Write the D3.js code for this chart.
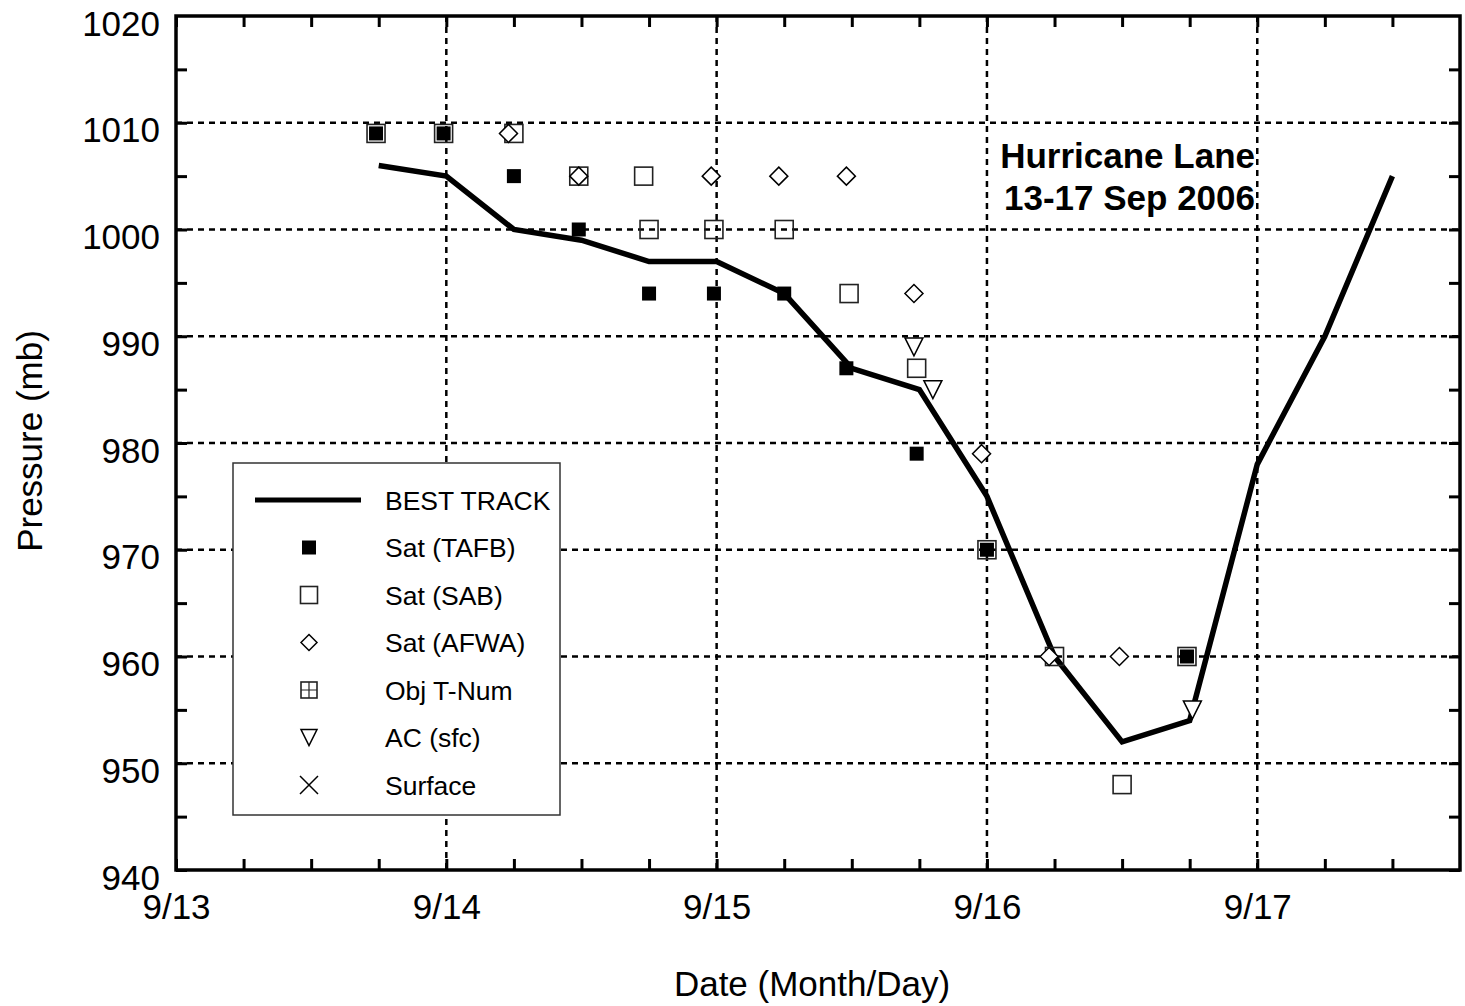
<!DOCTYPE html>
<html><head><meta charset="utf-8">
<script src="https://cdn.jsdelivr.net/npm/d3@7"></script>
<style>body{margin:0;background:#fff;} svg{display:block;font-family:"Liberation Sans",Arial,sans-serif;}</style>
</head><body>
<svg id="c" width="1465" height="1006"></svg>
<script>
// Data (x in fractional days of September 2006)
const xTickValues = [13, 14, 15, 16, 17];
const xTickLabels = ["9/13", "9/14", "9/15", "9/16", "9/17"];
const yTickValues = [940, 950, 960, 970, 980, 990, 1000, 1010, 1020];

const bestX = [13.75, 14.0, 14.25, 14.5, 14.75, 15.0, 15.25, 15.5, 15.75, 16.0, 16.25, 16.5, 16.75, 17.0, 17.25, 17.5];
const bestP = [1006, 1005, 1000, 999, 997, 997, 994, 987, 985, 975, 960, 952, 954, 978, 990, 1005];

const tafbX = [13.74, 13.99, 14.25, 14.49, 14.75, 14.99, 15.25, 15.48, 15.74, 16.0, 16.74];
const tafbP = [1009, 1009, 1005, 1000, 994, 994, 994, 987, 979, 970, 960];

const sabX = [13.74, 13.99, 14.25, 14.49, 14.73, 14.75, 14.99, 15.25, 15.49, 15.74, 16.0, 16.25, 16.5, 16.74];
const sabP = [1009, 1009, 1009, 1005, 1005, 1000, 1000, 1000, 994, 987, 970, 960, 948, 960];

const afwaX = [14.23, 14.49, 14.98, 15.23, 15.48, 15.73, 15.98, 16.23, 16.49];
const afwaP = [1009, 1005, 1005, 1005, 1005, 994, 979, 960, 960];

const acX = [15.73, 15.8, 16.76];
const acP = [989, 985, 955];

const legendLabels = ["BEST TRACK", "Sat (TAFB)", "Sat (SAB)", "Sat (AFWA)", "Obj T-Num", "AC (sfc)", "Surface"];

const svg = d3.select("#c");
const L = 176, R = 1460, T = 16, B = 870;
const x = d3.scaleLinear().domain([13, 17.75]).range([L, R]);
const y = d3.scaleLinear().domain([940, 1020]).range([B, T]);
const FS = 35;

// grid
const g = svg.append("g");
xTickValues.slice(1).forEach(v => g.append("line").attr("x1", x(v)).attr("x2", x(v)).attr("y1", T).attr("y2", B)
  .attr("stroke", "#000").attr("stroke-width", 2.5).attr("stroke-dasharray", "6,5"));
yTickValues.slice(1, -1).forEach(v => g.append("line").attr("x1", L).attr("x2", R).attr("y1", y(v)).attr("y2", y(v))
  .attr("stroke", "#000").attr("stroke-width", 2.5).attr("stroke-dasharray", "6,5"));

// minor ticks via axes
const xMinor = d3.range(13, 17.75, 0.25);
const yMinor = d3.range(940, 1020, 5);
function styleTicks(s) { s.select(".domain").remove(); s.selectAll("line").attr("stroke-width", 3); }
svg.append("g").attr("transform", `translate(0,${B})`)
  .call(d3.axisBottom(x).tickValues(xMinor).tickSize(-11).tickFormat("")).call(styleTicks);
svg.append("g").attr("transform", `translate(0,${T})`)
  .call(d3.axisTop(x).tickValues(xMinor).tickSize(-11).tickFormat("")).call(styleTicks);
svg.append("g").attr("transform", `translate(${L},0)`)
  .call(d3.axisLeft(y).tickValues(yMinor).tickSize(-11).tickFormat("")).call(styleTicks);
svg.append("g").attr("transform", `translate(${R},0)`)
  .call(d3.axisRight(y).tickValues(yMinor).tickSize(-11).tickFormat("")).call(styleTicks);

// tick labels
svg.append("g").attr("transform", `translate(0,${B})`)
  .call(d3.axisBottom(x).tickValues(xTickValues).tickSize(0).tickPadding(0).tickFormat((d, i) => xTickLabels[i]))
  .call(s => { s.select(".domain").remove(); s.selectAll("text").attr("font-size", FS).attr("fill", "#000").attr("y", 49).attr("dy", null).attr("font-family", "Liberation Sans, Arial"); });
svg.append("g").attr("transform", `translate(${L},0)`)
  .call(d3.axisLeft(y).tickValues(yTickValues).tickSize(0).tickPadding(16).tickFormat(d3.format("d")))
  .call(s => { s.select(".domain").remove(); s.selectAll("text").attr("font-size", FS).attr("fill", "#000").attr("dy", 19).attr("font-family", "Liberation Sans, Arial"); });

// frame
svg.append("rect").attr("x", L).attr("y", T).attr("width", R - L).attr("height", B - T)
  .attr("fill", "none").attr("stroke", "#000").attr("stroke-width", 3.5);

// annotation
const ann = svg.append("g");
ann.append("rect").attr("x", 990).attr("y", 138).attr("width", 266).attr("height", 78).attr("fill", "#fff");
ann.append("text").attr("x", 1255).attr("y", 168).attr("text-anchor", "end").attr("font-size", FS).attr("font-weight", "bold").text("Hurricane Lane");
ann.append("text").attr("x", 1255).attr("y", 210).attr("text-anchor", "end").attr("font-size", FS).attr("font-weight", "bold").text("13-17 Sep 2006");

// marker drawers
function openSquare(sel, s, fill) { sel.append("rect").attr("x", -s / 2).attr("y", -s / 2).attr("width", s).attr("height", s).attr("fill", fill || "none").attr("stroke", "#222").attr("stroke-width", 1.6); }
function filledSquare(sel, s) { sel.append("rect").attr("x", -s / 2).attr("y", -s / 2).attr("width", s).attr("height", s).attr("fill", "#000"); }
function diamond(sel, s) { const h = s / 2; sel.append("path").attr("d", `M0,${-h}L${h},0L0,${h}L${-h},0Z`).attr("fill", "#fff").attr("stroke", "#000").attr("stroke-width", 1.5); }
function triDown(sel, s) { const h = s / 2; sel.append("path").attr("d", `M${-h},${-h}L${h},${-h}L0,${h}Z`).attr("fill", "#fff").attr("stroke", "#000").attr("stroke-width", 1.5); }
function plusSquare(sel, s) { openSquare(sel, s, "#fff"); const h = s / 2; sel.append("path").attr("d", `M0,${-h}V${h}M${-h},0H${h}`).attr("stroke", "#222").attr("stroke-width", 1.2); }
function cross(sel, s) { const h = s / 2; sel.append("path").attr("d", `M${-h},${-h}L${h},${h}M${h},${-h}L${-h},${h}`).attr("stroke", "#000").attr("stroke-width", 1.5); }

function plot(xs, ps, fn, s) {
  xs.forEach((d, i) => { const gg = svg.append("g").attr("transform", `translate(${x(d)},${y(ps[i])})`); fn(gg, s); });
}

// best track
svg.append("path").datum(bestX.map((d, i) => [d, bestP[i]]))
  .attr("d", d3.line().x(d => x(d[0])).y(d => y(d[1])))
  .attr("fill", "none").attr("stroke", "#000").attr("stroke-width", 5.5).attr("stroke-linejoin", "miter");

plot(sabX, sabP, openSquare, 18);
plot(afwaX, afwaP, diamond, 18);
plot(tafbX, tafbP, filledSquare, 14);
plot(acX, acP, triDown, 18);

// legend
const lg = svg.append("g");
lg.append("rect").attr("x", 233).attr("y", 463).attr("width", 327).attr("height", 352).attr("fill", "#fff").attr("stroke", "#333").attr("stroke-width", 1.5);
const fns = [null, filledSquare, openSquare, diamond, plusSquare, triDown, cross];
const sizes = [0, 14, 17, 16, 16, 16, 18];
legendLabels.forEach((lab, i) => {
  const yy = 500 + i * 47.5;
  if (i === 0) lg.append("line").attr("x1", 255).attr("x2", 361).attr("y1", yy).attr("y2", yy).attr("stroke", "#000").attr("stroke-width", 5);
  else { const gg = lg.append("g").attr("transform", `translate(309,${yy})`); fns[i](gg, sizes[i]); }
  lg.append("text").attr("x", 385).attr("y", yy + 9.5).attr("font-size", 26.5).text(lab);
});

// axis titles
svg.append("text").attr("x", 812).attr("y", 996).attr("text-anchor", "middle").attr("font-size", FS).text("Date (Month/Day)");
svg.append("text").attr("transform", "translate(42,441) rotate(-90)").attr("text-anchor", "middle").attr("font-size", FS).text("Pressure (mb)");
</script>
</body></html>
